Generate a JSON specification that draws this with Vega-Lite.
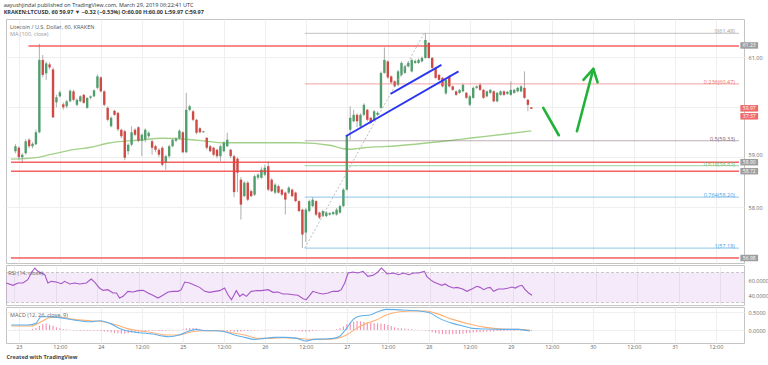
{
"$schema": "https://vega.github.io/schema/vega-lite/v6.json",
"background": "white",
"padding": {"left": 3, "top": 2, "right": 2, "bottom": 2},
"config": {
  "font": "Open Sans",
  "view": {"stroke": "#c4c4c4", "strokeWidth": 1},
  "axis": {"labelFont": "Open Sans", "labelFontSize": 5.5, "labelColor": "#666", "ticks": false, "domain": false, "gridColor": "#efefef", "gridWidth": 1}
},
"title": {"text": "aayushjindal published on TradingView.com, March 29, 2019 06:22:41 UTC", "subtitle": "KRAKEN:LTCUSD, 60  59.97 ▼ −0.32 (−0.53%) O:60.00 H:60.00 L:59.97 C:59.97", "anchor": "start", "fontSize": 5.5, "subtitleFontSize": 5.5, "fontWeight": "normal", "subtitleFontWeight": "bold", "color": "#333", "subtitleColor": "#333", "offset": 3, "subtitlePadding": 2, "font": "Open Sans", "subtitleFont": "Open Sans"},
"datasets": {
"candles": [
{"t":-1,"o":59.12,"h":59.26,"l":59.08,"c":59.22,"hist":0.01},
{"t":0,"o":59.19,"h":59.22,"l":58.94,"c":59.0,"hist":0.01},
{"t":1,"o":59.0,"h":59.08,"l":58.88,"c":59.05,"hist":0.01},
{"t":2,"o":59.08,"h":59.36,"l":59.05,"c":59.32,"hist":0.01},
{"t":3,"o":59.35,"h":59.38,"l":59.18,"c":59.22,"hist":0.01},
{"t":4,"o":59.22,"h":59.3,"l":59.18,"c":59.27,"hist":0.03},
{"t":5,"o":59.26,"h":59.55,"l":59.24,"c":59.5,"hist":0.06},
{"t":6,"o":59.5,"h":61.27,"l":59.48,"c":60.95,"hist":0.12},
{"t":7,"o":60.95,"h":61.05,"l":60.6,"c":60.65,"hist":0.17},
{"t":8,"o":60.68,"h":60.92,"l":60.55,"c":60.88,"hist":0.18},
{"t":9,"o":60.86,"h":60.9,"l":60.76,"c":60.8,"hist":0.15},
{"t":10,"o":60.76,"h":60.8,"l":59.78,"c":59.8,"hist":0.12},
{"t":11,"o":60.1,"h":60.25,"l":60.0,"c":60.2,"hist":0.08},
{"t":12,"o":60.22,"h":60.33,"l":60.2,"c":60.3,"hist":0.05},
{"t":13,"o":60.06,"h":60.1,"l":59.95,"c":60.0,"hist":0.03},
{"t":14,"o":60.02,"h":60.15,"l":59.98,"c":60.12,"hist":0.02},
{"t":15,"o":60.12,"h":60.36,"l":60.1,"c":60.33,"hist":0.01},
{"t":16,"o":60.32,"h":60.35,"l":60.12,"c":60.15,"hist":-0.01},
{"t":17,"o":60.05,"h":60.18,"l":60.02,"c":60.15,"hist":-0.01},
{"t":18,"o":60.12,"h":60.24,"l":60.1,"c":60.22,"hist":-0.02},
{"t":19,"o":60.25,"h":60.27,"l":60.07,"c":60.09,"hist":-0.02},
{"t":20,"o":59.99,"h":60.2,"l":59.97,"c":60.19,"hist":-0.02},
{"t":21,"o":60.19,"h":60.24,"l":60.16,"c":60.22,"hist":-0.01},
{"t":22,"o":60.22,"h":60.36,"l":60.2,"c":60.34,"hist":-0.01},
{"t":23,"o":60.39,"h":60.66,"l":60.36,"c":60.62,"hist":-0.02},
{"t":24,"o":60.6,"h":60.62,"l":60.3,"c":60.32,"hist":-0.03},
{"t":25,"o":60.32,"h":60.34,"l":60.02,"c":60.05,"hist":-0.04},
{"t":26,"o":59.99,"h":60.02,"l":59.72,"c":59.75,"hist":-0.05},
{"t":27,"o":59.62,"h":59.82,"l":59.6,"c":59.79,"hist":-0.07},
{"t":28,"o":59.93,"h":59.95,"l":59.83,"c":59.85,"hist":-0.08},
{"t":29,"o":59.89,"h":59.9,"l":59.52,"c":59.56,"hist":-0.09},
{"t":30,"o":59.55,"h":59.57,"l":59.38,"c":59.42,"hist":-0.1},
{"t":31,"o":59.52,"h":59.55,"l":58.94,"c":58.99,"hist":-0.1},
{"t":32,"o":59.12,"h":59.28,"l":59.05,"c":59.25,"hist":-0.09},
{"t":33,"o":59.25,"h":59.62,"l":59.22,"c":59.5,"hist":-0.07},
{"t":34,"o":59.55,"h":59.58,"l":59.42,"c":59.45,"hist":-0.06},
{"t":35,"o":59.6,"h":59.62,"l":59.3,"c":59.33,"hist":-0.05},
{"t":36,"o":59.33,"h":59.48,"l":59.02,"c":59.45,"hist":-0.04},
{"t":37,"o":59.35,"h":59.58,"l":59.3,"c":59.55,"hist":-0.03},
{"t":38,"o":59.42,"h":59.52,"l":59.38,"c":59.49,"hist":-0.02},
{"t":39,"o":59.32,"h":59.35,"l":59.05,"c":59.19,"hist":-0.02},
{"t":40,"o":59.22,"h":59.25,"l":59.1,"c":59.15,"hist":-0.02},
{"t":41,"o":59.15,"h":59.18,"l":59.0,"c":59.05,"hist":-0.03},
{"t":42,"o":59.19,"h":59.22,"l":58.82,"c":58.85,"hist":-0.03},
{"t":43,"o":58.89,"h":59.05,"l":58.75,"c":59.02,"hist":-0.02},
{"t":44,"o":59.02,"h":59.25,"l":58.98,"c":59.22,"hist":-0.01},
{"t":45,"o":59.22,"h":59.38,"l":59.2,"c":59.35,"hist":-0.01},
{"t":46,"o":59.33,"h":59.4,"l":59.3,"c":59.37,"hist":0.01},
{"t":47,"o":59.38,"h":59.56,"l":59.35,"c":59.53,"hist":0.01},
{"t":48,"o":59.5,"h":59.52,"l":59.08,"c":59.1,"hist":0.02},
{"t":49,"o":59.1,"h":60.29,"l":59.08,"c":59.95,"hist":0.05},
{"t":50,"o":59.95,"h":60.05,"l":59.92,"c":60.02,"hist":0.06},
{"t":51,"o":59.92,"h":59.95,"l":59.72,"c":59.75,"hist":0.06},
{"t":52,"o":59.75,"h":59.77,"l":59.46,"c":59.49,"hist":0.05},
{"t":53,"o":59.58,"h":59.6,"l":59.48,"c":59.5,"hist":0.03},
{"t":54,"o":59.5,"h":59.53,"l":59.49,"c":59.52,"hist":0.01},
{"t":55,"o":59.39,"h":59.4,"l":59.15,"c":59.19,"hist":0.01},
{"t":56,"o":59.22,"h":59.25,"l":59.1,"c":59.12,"hist":-0.01},
{"t":57,"o":59.19,"h":59.21,"l":59.02,"c":59.05,"hist":-0.01},
{"t":58,"o":59.15,"h":59.17,"l":58.98,"c":59.02,"hist":-0.01},
{"t":59,"o":59.02,"h":59.25,"l":58.92,"c":59.22,"hist":-0.01},
{"t":60,"o":59.12,"h":59.32,"l":59.1,"c":59.29,"hist":-0.02},
{"t":61,"o":59.22,"h":59.49,"l":59.2,"c":59.35,"hist":-0.03},
{"t":62,"o":59.15,"h":59.17,"l":58.98,"c":59.02,"hist":-0.04},
{"t":63,"o":59.02,"h":59.05,"l":58.2,"c":58.3,"hist":-0.05},
{"t":64,"o":58.97,"h":59.0,"l":58.3,"c":58.69,"hist":-0.05},
{"t":65,"o":58.55,"h":58.6,"l":57.75,"c":58.05,"hist":-0.04},
{"t":66,"o":58.22,"h":58.52,"l":58.2,"c":58.49,"hist":-0.03},
{"t":67,"o":58.49,"h":58.52,"l":58.12,"c":58.15,"hist":-0.03},
{"t":68,"o":58.32,"h":58.35,"l":58.2,"c":58.22,"hist":-0.02},
{"t":69,"o":58.25,"h":58.65,"l":58.22,"c":58.62,"hist":-0.01},
{"t":70,"o":58.59,"h":58.68,"l":58.55,"c":58.65,"hist":-0.01},
{"t":71,"o":58.59,"h":58.8,"l":58.57,"c":58.75,"hist":0.01},
{"t":72,"o":58.65,"h":58.85,"l":58.62,"c":58.79,"hist":0.01},
{"t":73,"o":58.82,"h":58.92,"l":58.32,"c":58.35,"hist":0.01},
{"t":74,"o":58.55,"h":58.58,"l":58.3,"c":58.32,"hist":0.01},
{"t":75,"o":58.29,"h":58.48,"l":58.26,"c":58.45,"hist":0.01},
{"t":76,"o":58.42,"h":58.45,"l":58.27,"c":58.29,"hist":-0.01},
{"t":77,"o":58.35,"h":58.37,"l":58.22,"c":58.25,"hist":-0.01},
{"t":78,"o":58.29,"h":58.31,"l":57.85,"c":58.15,"hist":-0.01},
{"t":79,"o":58.29,"h":58.42,"l":58.26,"c":58.39,"hist":-0.01},
{"t":80,"o":58.35,"h":58.37,"l":58.2,"c":58.22,"hist":-0.02},
{"t":81,"o":58.29,"h":58.31,"l":58.1,"c":58.12,"hist":-0.02},
{"t":82,"o":58.12,"h":58.14,"l":57.9,"c":57.92,"hist":-0.03},
{"t":83,"o":57.95,"h":57.97,"l":57.18,"c":57.45,"hist":-0.04},
{"t":84,"o":57.49,"h":57.98,"l":57.3,"c":57.95,"hist":-0.05},
{"t":85,"o":57.92,"h":58.15,"l":57.9,"c":58.12,"hist":-0.04},
{"t":86,"o":58.02,"h":58.2,"l":58.0,"c":58.15,"hist":-0.03},
{"t":87,"o":58.12,"h":58.14,"l":57.82,"c":57.85,"hist":-0.02},
{"t":88,"o":57.89,"h":57.91,"l":57.76,"c":57.79,"hist":-0.01},
{"t":89,"o":57.82,"h":57.95,"l":57.8,"c":57.92,"hist":-0.01},
{"t":90,"o":57.82,"h":57.92,"l":57.8,"c":57.89,"hist":0.01},
{"t":91,"o":57.85,"h":57.9,"l":57.83,"c":57.88,"hist":0.01},
{"t":92,"o":57.86,"h":57.92,"l":57.84,"c":57.9,"hist":0.01},
{"t":93,"o":57.85,"h":57.98,"l":57.83,"c":57.95,"hist":0.02},
{"t":94,"o":57.89,"h":58.05,"l":57.87,"c":58.02,"hist":0.05},
{"t":95,"o":58.02,"h":58.38,"l":58.0,"c":58.35,"hist":0.1},
{"t":96,"o":58.35,"h":59.45,"l":58.33,"c":59.42,"hist":0.16},
{"t":97,"o":59.55,"h":60.02,"l":59.35,"c":59.79,"hist":0.21},
{"t":98,"o":59.72,"h":59.95,"l":59.7,"c":59.85,"hist":0.24},
{"t":99,"o":59.85,"h":59.88,"l":59.6,"c":59.72,"hist":0.25},
{"t":100,"o":59.62,"h":59.88,"l":59.6,"c":59.85,"hist":0.24},
{"t":101,"o":59.85,"h":60.08,"l":59.82,"c":60.05,"hist":0.23},
{"t":102,"o":59.95,"h":59.97,"l":59.72,"c":59.75,"hist":0.21},
{"t":103,"o":59.79,"h":59.81,"l":59.67,"c":59.69,"hist":0.2},
{"t":104,"o":59.75,"h":59.95,"l":59.73,"c":59.92,"hist":0.19},
{"t":105,"o":59.85,"h":59.92,"l":59.83,"c":59.89,"hist":0.19},
{"t":106,"o":59.99,"h":60.72,"l":59.97,"c":60.69,"hist":0.18},
{"t":107,"o":60.69,"h":61.2,"l":60.67,"c":60.95,"hist":0.17},
{"t":108,"o":60.92,"h":60.94,"l":60.57,"c":60.6,"hist":0.14},
{"t":109,"o":60.62,"h":60.64,"l":60.47,"c":60.5,"hist":0.11},
{"t":110,"o":60.52,"h":60.54,"l":60.4,"c":60.42,"hist":0.08},
{"t":111,"o":60.45,"h":60.75,"l":60.42,"c":60.72,"hist":0.06},
{"t":112,"o":60.65,"h":60.92,"l":60.62,"c":60.89,"hist":0.05},
{"t":113,"o":60.69,"h":60.85,"l":60.67,"c":60.82,"hist":0.04},
{"t":114,"o":60.82,"h":60.92,"l":60.8,"c":60.89,"hist":0.03},
{"t":115,"o":60.72,"h":60.98,"l":60.7,"c":60.95,"hist":0.02},
{"t":116,"o":60.89,"h":60.96,"l":60.87,"c":60.93,"hist":0.01},
{"t":117,"o":60.89,"h":60.98,"l":60.87,"c":60.95,"hist":0.01},
{"t":118,"o":60.92,"h":61.02,"l":60.9,"c":60.99,"hist":0.01},
{"t":119,"o":60.99,"h":61.49,"l":60.97,"c":61.35,"hist":-0.01},
{"t":120,"o":61.29,"h":61.31,"l":60.97,"c":60.99,"hist":-0.03},
{"t":121,"o":60.99,"h":61.01,"l":60.77,"c":60.79,"hist":-0.06},
{"t":122,"o":60.79,"h":60.81,"l":60.57,"c":60.59,"hist":-0.08},
{"t":123,"o":60.65,"h":60.67,"l":60.53,"c":60.55,"hist":-0.1},
{"t":124,"o":60.59,"h":60.61,"l":60.4,"c":60.42,"hist":-0.11},
{"t":125,"o":60.28,"h":60.58,"l":60.25,"c":60.55,"hist":-0.12},
{"t":126,"o":60.62,"h":60.64,"l":60.4,"c":60.42,"hist":-0.12},
{"t":127,"o":60.42,"h":60.44,"l":60.33,"c":60.35,"hist":-0.12},
{"t":128,"o":60.32,"h":60.34,"l":60.23,"c":60.25,"hist":-0.11},
{"t":129,"o":60.29,"h":60.37,"l":60.27,"c":60.35,"hist":-0.11},
{"t":130,"o":60.32,"h":60.48,"l":60.3,"c":60.45,"hist":-0.1},
{"t":131,"o":60.29,"h":60.31,"l":60.17,"c":60.19,"hist":-0.09},
{"t":132,"o":60.05,"h":60.25,"l":60.02,"c":60.22,"hist":-0.08},
{"t":133,"o":60.19,"h":60.42,"l":60.17,"c":60.39,"hist":-0.07},
{"t":134,"o":60.39,"h":60.44,"l":60.37,"c":60.42,"hist":-0.06},
{"t":135,"o":60.45,"h":60.49,"l":60.33,"c":60.35,"hist":-0.06},
{"t":136,"o":60.35,"h":60.37,"l":60.17,"c":60.19,"hist":-0.05},
{"t":137,"o":60.22,"h":60.34,"l":60.2,"c":60.32,"hist":-0.05},
{"t":138,"o":60.29,"h":60.37,"l":60.27,"c":60.35,"hist":-0.04},
{"t":139,"o":60.32,"h":60.34,"l":60.1,"c":60.12,"hist":-0.04},
{"t":140,"o":60.12,"h":60.31,"l":60.1,"c":60.29,"hist":-0.03},
{"t":141,"o":60.25,"h":60.34,"l":60.23,"c":60.32,"hist":-0.03},
{"t":142,"o":60.32,"h":60.34,"l":60.23,"c":60.25,"hist":-0.03},
{"t":143,"o":60.27,"h":60.33,"l":60.25,"c":60.31,"hist":-0.02},
{"t":144,"o":60.25,"h":60.52,"l":60.23,"c":60.35,"hist":-0.02},
{"t":145,"o":60.29,"h":60.37,"l":60.27,"c":60.35,"hist":-0.02},
{"t":146,"o":60.32,"h":60.41,"l":60.3,"c":60.39,"hist":-0.01},
{"t":147,"o":60.32,"h":60.44,"l":60.3,"c":60.42,"hist":-0.01},
{"t":148,"o":60.39,"h":60.72,"l":60.17,"c":60.19,"hist":-0.02},
{"t":149,"o":60.15,"h":60.17,"l":59.92,"c":60.05,"hist":-0.03},
{"t":150,"o":60.0,"h":60.0,"l":59.97,"c":59.97,"hist":-0.03}
],
"ma": [
{"t":-2.3,"ma":58.96},{"t":5,"ma":58.99},{"t":9,"ma":59.05},{"t":16,"ma":59.15},{"t":21,"ma":59.2},{"t":26,"ma":59.28},{"t":35,"ma":59.34},{"t":42,"ma":59.38},{"t":49,"ma":59.36},{"t":55,"ma":59.32},{"t":60,"ma":59.29},{"t":73,"ma":59.29},{"t":82,"ma":59.29},{"t":91,"ma":59.24},{"t":95,"ma":59.17},{"t":97,"ma":59.16},{"t":101,"ma":59.19},{"t":111,"ma":59.23},{"t":123,"ma":59.31},{"t":133,"ma":59.39},{"t":142,"ma":59.46},{"t":150,"ma":59.53}
],
"hlines": [
{"price":61.23,"t0":2.8},{"price":58.9,"t0":-2.3},{"price":58.72,"t0":-2.3},{"price":56.98,"t0":-2.3}
],
"fib": [
{"level":"0","price":61.48,"t0":83.7,"label":"0(61.48)"},
{"level":"0.236","price":60.47,"t0":83.7,"label":"0.236(60.47)"},
{"level":"0.5","price":59.33,"t0":83.7,"label":"0.5(59.33)"},
{"level":"0.618","price":58.83,"t0":83.7,"label":"0.618(58.83)"},
{"level":"0.764","price":58.2,"t0":83.7,"label":"0.764(58.20)"},
{"level":"1","price":57.18,"t0":83.7,"label":"1(57.18)"}
],
"fibdiag": [{"t":83.7,"p":57.18},{"t":118.6,"p":61.48}],
"trend": [
{"id":"a","t":95.7,"p":59.42},{"id":"a","t":128.7,"p":60.72},
{"id":"b","t":108.8,"p":60.27},{"id":"b","t":123.7,"p":60.85}
],
"arrows": [
{"id":"s1","t":153.5,"p":59.99},{"id":"s1","t":158.05,"p":59.44},
{"id":"s2","t":163.36,"p":59.52},{"id":"s2","t":168.16,"p":60.77},
{"id":"hd","t":165.27,"p":60.55},{"id":"hd","t":168.16,"p":60.77},{"id":"hd","t":169.4,"p":60.5}
],
"tags": [
{"price":61.24,"label":"61.23","kind":"level"},
{"price":58.9,"label":"58.90","kind":"level"},
{"price":58.72,"label":"58.72","kind":"level"},
{"price":56.98,"label":"56.98","kind":"level"},
{"price":59.98,"label":"59.97","kind":"last"},
{"price":59.82,"label":"37:37","kind":"last"}
],
"band": [{"lo":30,"hi":70}],
"rsi": [
{"t":-2.2,"v":56.0},{"t":-0.3,"v":52.9},{"t":1.2,"v":56.0},{"t":2.6,"v":56.0},{"t":4.0,"v":60.4},{"t":5.0,"v":69.3},{"t":6.0,"v":76.0},{"t":6.9,"v":71.6},{"t":7.9,"v":69.3},{"t":8.9,"v":67.1},{"t":9.8,"v":56.0},{"t":10.8,"v":58.2},{"t":12.2,"v":57.3},{"t":13.7,"v":55.1},{"t":14.6,"v":58.2},{"t":16.1,"v":54.7},{"t":17.5,"v":56.0},{"t":19.0,"v":54.7},{"t":20.9,"v":56.0},{"t":22.3,"v":61.3},{"t":23.3,"v":57.3},{"t":24.7,"v":49.3},{"t":25.7,"v":46.2},{"t":27.1,"v":47.1},{"t":28.6,"v":42.7},{"t":29.6,"v":42.7},{"t":30.5,"v":36.0},{"t":31.5,"v":38.2},{"t":32.9,"v":44.9},{"t":34.4,"v":44.0},{"t":35.8,"v":45.8},{"t":37.3,"v":46.2},{"t":38.7,"v":42.7},{"t":40.1,"v":39.6},{"t":41.6,"v":36.0},{"t":43.0,"v":39.6},{"t":44.5,"v":44.0},{"t":45.9,"v":44.9},{"t":47.4,"v":44.9},{"t":48.3,"v":47.1},{"t":49.3,"v":57.3},{"t":50.7,"v":56.0},{"t":52.2,"v":52.9},{"t":53.6,"v":50.2},{"t":55.1,"v":44.9},{"t":56.5,"v":43.6},{"t":58.0,"v":44.9},{"t":59.4,"v":45.8},{"t":60.8,"v":49.3},{"t":61.8,"v":40.4},{"t":62.8,"v":33.8},{"t":64.2,"v":45.8},{"t":65.2,"v":38.2},{"t":66.1,"v":41.3},{"t":67.1,"v":38.2},{"t":68.5,"v":44.9},{"t":70.0,"v":45.8},{"t":71.4,"v":45.8},{"t":73.4,"v":47.1},{"t":74.8,"v":43.6},{"t":76.2,"v":44.0},{"t":77.7,"v":41.3},{"t":79.1,"v":41.3},{"t":80.6,"v":40.4},{"t":82.0,"v":39.6},{"t":83.5,"v":35.1},{"t":84.4,"v":33.8},{"t":85.4,"v":39.6},{"t":86.3,"v":44.9},{"t":87.8,"v":42.7},{"t":89.2,"v":41.3},{"t":90.7,"v":42.7},{"t":92.1,"v":44.9},{"t":93.6,"v":44.9},{"t":94.5,"v":47.1},{"t":95.5,"v":56.0},{"t":96.5,"v":69.3},{"t":97.9,"v":70.7},{"t":99.3,"v":69.3},{"t":100.8,"v":71.6},{"t":102.2,"v":64.9},{"t":103.7,"v":66.2},{"t":105.1,"v":70.7},{"t":106.1,"v":76.0},{"t":107.1,"v":71.6},{"t":107.7,"v":68.0},{"t":109.6,"v":69.3},{"t":111.1,"v":67.1},{"t":112.5,"v":69.3},{"t":114.0,"v":67.1},{"t":115.4,"v":69.3},{"t":116.8,"v":69.3},{"t":117.8,"v":70.7},{"t":118.5,"v":71.6},{"t":119.2,"v":64.9},{"t":120.2,"v":60.5},{"t":121.2,"v":57.3},{"t":122.6,"v":54.7},{"t":123.6,"v":52.9},{"t":124.5,"v":54.7},{"t":125.5,"v":51.6},{"t":126.9,"v":49.3},{"t":127.9,"v":50.2},{"t":129.4,"v":48.4},{"t":130.8,"v":44.9},{"t":132.2,"v":48.0},{"t":133.7,"v":51.6},{"t":134.6,"v":50.2},{"t":135.6,"v":47.1},{"t":136.6,"v":49.3},{"t":137.5,"v":50.2},{"t":138.5,"v":44.9},{"t":139.9,"v":48.0},{"t":141.4,"v":48.0},{"t":142.8,"v":49.3},{"t":143.8,"v":50.7},{"t":144.8,"v":49.3},{"t":145.7,"v":51.6},{"t":146.7,"v":52.9},{"t":147.6,"v":47.1},{"t":148.6,"v":42.7},{"t":149.6,"v":39.6}
],
"macd": [
{"t":-2.2,"v":0.139},{"t":2.6,"v":0.139},{"t":5.0,"v":0.185},{"t":6.5,"v":0.37},{"t":8.4,"v":0.37},{"t":11.3,"v":0.352},{"t":16.1,"v":0.278},{"t":20.9,"v":0.231},{"t":23.8,"v":0.259},{"t":26.7,"v":0.185},{"t":29.5,"v":0.046},{"t":31.5,"v":-0.019},{"t":35.3,"v":-0.074},{"t":39.2,"v":-0.111},{"t":42.1,"v":-0.167},{"t":44.0,"v":-0.185},{"t":46.9,"v":-0.139},{"t":49.3,"v":-0.046},{"t":51.7,"v":0.019},{"t":54.6,"v":-0.019},{"t":57.5,"v":-0.019},{"t":60.3,"v":-0.046},{"t":63.2,"v":-0.139},{"t":66.1,"v":-0.204},{"t":69.0,"v":-0.259},{"t":71.9,"v":-0.231},{"t":74.8,"v":-0.204},{"t":77.7,"v":-0.204},{"t":81.5,"v":-0.231},{"t":83.9,"v":-0.306},{"t":86.3,"v":-0.259},{"t":89.2,"v":-0.25},{"t":92.1,"v":-0.231},{"t":94.0,"v":-0.167},{"t":95.9,"v":0.046},{"t":97.9,"v":0.296},{"t":99.8,"v":0.389},{"t":102.7,"v":0.417},{"t":105.1,"v":0.509},{"t":107.5,"v":0.574},{"t":112.5,"v":0.555},{"t":117.3,"v":0.528},{"t":120.2,"v":0.481},{"t":123.1,"v":0.324},{"t":127.0,"v":0.185},{"t":130.8,"v":0.093},{"t":132.7,"v":0.046},{"t":136.6,"v":0.028},{"t":141.4,"v":0.019},{"t":146.2,"v":0.019},{"t":149.6,"v":-0.028}
],
"signal": [
{"t":-2.2,"v":0.111},{"t":3.6,"v":0.111},{"t":6.5,"v":0.231},{"t":9.3,"v":0.352},{"t":12.2,"v":0.352},{"t":16.1,"v":0.296},{"t":20.9,"v":0.259},{"t":24.7,"v":0.231},{"t":28.6,"v":0.139},{"t":31.5,"v":0.046},{"t":35.3,"v":-0.019},{"t":39.2,"v":-0.074},{"t":43.0,"v":-0.139},{"t":46.9,"v":-0.139},{"t":50.7,"v":-0.046},{"t":54.6,"v":-0.019},{"t":58.4,"v":-0.019},{"t":62.3,"v":-0.074},{"t":66.1,"v":-0.139},{"t":70.0,"v":-0.231},{"t":73.8,"v":-0.231},{"t":77.7,"v":-0.213},{"t":81.5,"v":-0.231},{"t":85.4,"v":-0.259},{"t":89.2,"v":-0.259},{"t":93.1,"v":-0.231},{"t":95.9,"v":-0.139},{"t":98.8,"v":0.046},{"t":101.7,"v":0.185},{"t":104.6,"v":0.278},{"t":107.5,"v":0.417},{"t":111.5,"v":0.509},{"t":115.4,"v":0.528},{"t":119.2,"v":0.528},{"t":122.1,"v":0.463},{"t":127.0,"v":0.296},{"t":131.8,"v":0.167},{"t":136.6,"v":0.074},{"t":141.4,"v":0.028},{"t":146.2,"v":0.019},{"t":149.6,"v":0.0}
]
},
"spacing": 0,
"vconcat": [
{
  "width": 738, "height": 244,
  "title": {"text": "Litecoin / U.S. Dollar, 60, KRAKEN", "subtitle": "MA (100, close)", "anchor": "start", "offset": -18, "dx": 4, "fontSize": 5.5, "subtitleFontSize": 5.5, "fontWeight": "normal", "color": "#555", "subtitleColor": "#999", "subtitlePadding": 1, "font": "Open Sans", "subtitleFont": "Open Sans"},
  "layer": [
    {"data": {"name": "ma"}, "mark": {"type": "line", "color": "#8cc56b", "strokeWidth": 1.3, "opacity": 0.8, "interpolate": "monotone"},
     "encoding": {
       "x": {"field": "t", "type": "quantitative", "scale": {"domain": [-2.3, 210.8], "nice": false, "zero": false},
             "axis": {"values": [0,12,24,36,48,60,72,84,96,108,120,132,144,156,168,180,192,204], "labels": false, "grid": true, "title": null}},
       "y": {"field": "ma", "type": "quantitative", "scale": {"domain": [56.88, 61.77], "nice": false, "zero": false},
             "axis": {"orient": "right", "values": [57,57.5,58,58.5,59,59.5,60,60.5,61,61.5], "labelExpr": "datum.value == 60 || datum.value == 57 ? '' : format(datum.value, '.2f')", "labelBaseline": {"condition": {"test": "datum.value == 59", "value": "bottom"}, "value": "middle"}, "grid": true, "title": null, "labelPadding": 4}}
     }},
    {"data": {"name": "candles"}, "mark": {"type": "rule", "color": "#9a9a9a", "strokeWidth": 0.8},
     "encoding": {
       "x": {"field": "t", "type": "quantitative"},
       "y": {"field": "l", "type": "quantitative"},
       "y2": {"field": "h"}
     }},
    {"data": {"name": "candles"}, "mark": {"type": "bar", "orient": "vertical", "size": 2.4},
     "encoding": {
       "x": {"field": "t", "type": "quantitative"},
       "y": {"field": "o", "type": "quantitative"},
       "y2": {"field": "c"},
       "color": {"condition": {"test": "datum.c >= datum.o", "value": "#4f9e6b"}, "value": "#cf4a45"}
     }},
    {"data": {"name": "hlines"}, "mark": {"type": "rule", "color": "#f23b3b", "strokeWidth": 1.6, "opacity": 0.8},
     "encoding": {
       "x": {"field": "t0", "type": "quantitative"},
       "x2": {"datum": 210.8},
       "y": {"field": "price", "type": "quantitative"}
     }},
    {"data": {"name": "fib"}, "mark": {"type": "rule", "strokeWidth": 1.2, "opacity": 0.5},
     "encoding": {
       "x": {"field": "t0", "type": "quantitative"},
       "x2": {"datum": 210.8},
       "y": {"field": "price", "type": "quantitative"},
       "color": {"field": "level", "type": "nominal", "legend": null, "scale": {"domain": ["0","0.236","0.5","0.618","0.764","1"], "range": ["#9e9e9e","#ef6b6b","#7d5f73","#66bb6a","#4aa3df","#4aa3df"]}}
     }},
    {"data": {"name": "fib"}, "mark": {"type": "text", "align": "right", "baseline": "bottom", "dx": -4, "dy": 1, "fontSize": 5.5},
     "encoding": {
       "x": {"datum": 210.8, "type": "quantitative"},
       "y": {"field": "price", "type": "quantitative"},
       "text": {"field": "label"},
       "color": {"field": "level", "type": "nominal", "legend": null}
     }},
    {"data": {"name": "fibdiag"}, "mark": {"type": "line", "color": "#aaaaaa", "strokeWidth": 0.8, "strokeDash": [2, 2]},
     "encoding": {
       "x": {"field": "t", "type": "quantitative"},
       "y": {"field": "p", "type": "quantitative"}
     }},
    {"data": {"name": "trend"}, "mark": {"type": "line", "color": "#2a35f5", "strokeWidth": 1.8},
     "encoding": {
       "x": {"field": "t", "type": "quantitative"},
       "y": {"field": "p", "type": "quantitative"},
       "detail": {"field": "id"}
     }},
    {"data": {"name": "arrows"}, "mark": {"type": "line", "color": "#22b23a", "strokeWidth": 2.6, "strokeCap": "round", "strokeJoin": "round"},
     "encoding": {
       "x": {"field": "t", "type": "quantitative"},
       "y": {"field": "p", "type": "quantitative"},
       "detail": {"field": "id"}
     }},
    {"data": {"name": "tags"}, "mark": {"type": "rule", "strokeWidth": 6.5, "strokeCap": "butt"},
     "encoding": {
       "x": {"datum": 211.2, "type": "quantitative"},
       "x2": {"datum": 216.4},
       "y": {"field": "price", "type": "quantitative"},
       "color": {"field": "kind", "type": "nominal", "legend": null, "scale": {"domain": ["level","last"], "range": ["#f21c1c","#e06363"]}}
     }},
    {"data": {"name": "tags"}, "mark": {"type": "text", "color": "white", "fontSize": 5, "align": "center", "baseline": "middle"},
     "encoding": {
       "x": {"datum": 213.8, "type": "quantitative"},
       "y": {"field": "price", "type": "quantitative"},
       "text": {"field": "label"}
     }}
  ]
},
{
  "width": 738, "height": 40,
  "title": {"text": "RSI (14, close)", "anchor": "start", "offset": -11, "dx": 4, "fontSize": 5.5, "fontWeight": "normal", "color": "#666", "font": "Open Sans"},
  "layer": [
    {"data": {"name": "rsi"}, "mark": {"type": "line", "color": "#a755c8", "strokeWidth": 1.1, "opacity": 0},
     "encoding": {
       "x": {"field": "t", "type": "quantitative", "scale": {"domain": [-2.3, 210.8], "nice": false, "zero": false},
             "axis": {"values": [0,12,24,36,48,60,72,84,96,108,120,132,144,156,168,180,192,204], "labels": false, "grid": true, "title": null}},
       "y": {"field": "v", "type": "quantitative", "scale": {"domain": [26.7, 80], "nice": false, "zero": false},
             "axis": {"orient": "right", "values": [40, 60], "format": ".4f", "grid": false, "title": null, "labelPadding": 4}}
     }},
    {"data": {"name": "band"}, "mark": {"type": "rect", "color": "#a64fd0", "opacity": 0.12},
     "encoding": {
       "x": {"datum": -2.3, "type": "quantitative"},
       "x2": {"datum": 210.8},
       "y": {"field": "lo", "type": "quantitative"},
       "y2": {"field": "hi"}
     }},
    {"data": {"name": "band"}, "mark": {"type": "rule", "color": "#bbbbbb", "strokeDash": [3, 2], "strokeWidth": 0.8},
     "encoding": {"y": {"field": "lo", "type": "quantitative"}}},
    {"data": {"name": "band"}, "mark": {"type": "rule", "color": "#bbbbbb", "strokeDash": [3, 2], "strokeWidth": 0.8},
     "encoding": {"y": {"field": "hi", "type": "quantitative"}}},
    {"data": {"name": "rsi"}, "mark": {"type": "line", "color": "#a755c8", "strokeWidth": 1.1},
     "encoding": {
       "x": {"field": "t", "type": "quantitative"},
       "y": {"field": "v", "type": "quantitative"}
     }}
  ]
},
{
  "width": 738, "height": 36,
  "title": {"text": "MACD (12, 26, close, 9)", "anchor": "start", "offset": -11, "dx": 4, "fontSize": 5.5, "fontWeight": "normal", "color": "#666", "font": "Open Sans"},
  "layer": [
    {"data": {"name": "macd"}, "mark": {"type": "line", "color": "#5fb0ec", "strokeWidth": 1.1, "opacity": 0},
     "encoding": {
       "x": {"field": "t", "type": "quantitative", "scale": {"domain": [-2.3, 210.8], "nice": false, "zero": false},
             "axis": {"values": [0,12,24,36,48,60,72,84,96,108,120,132,144,156,168,180,192,204], "labels": true, "grid": true,
                      "labelExpr": "datum.value % 24 === 0 ? '' + (23 + datum.value / 24) : '12:00'", "labelPadding": 1,
                      "title": "Created with TradingView", "titleAnchor": "start", "titleAlign": "left", "titleFontSize": 5.5, "titleFontWeight": "bold", "titleColor": "#444", "titlePadding": 5, "titleFont": "Open Sans"}},
       "y": {"field": "v", "type": "quantitative", "scale": {"domain": [-0.36, 0.64], "nice": false, "zero": false},
             "axis": {"orient": "right", "values": [0, 0.5], "format": ".4f", "grid": true, "title": null, "labelPadding": 4}}
     }},
    {"data": {"name": "candles"}, "mark": {"type": "bar", "orient": "vertical", "size": 1.1, "color": "#f48fb1"},
     "encoding": {
       "x": {"field": "t", "type": "quantitative"},
       "y": {"field": "hist", "type": "quantitative"},
       "y2": {"datum": 0}
     }},
    {"data": {"name": "signal"}, "mark": {"type": "line", "color": "#ffb173", "strokeWidth": 1.1, "interpolate": "monotone"},
     "encoding": {
       "x": {"field": "t", "type": "quantitative"},
       "y": {"field": "v", "type": "quantitative"}
     }},
    {"data": {"name": "macd"}, "mark": {"type": "line", "color": "#5fb0ec", "strokeWidth": 1.1, "interpolate": "monotone"},
     "encoding": {
       "x": {"field": "t", "type": "quantitative"},
       "y": {"field": "v", "type": "quantitative"}
     }}
  ]
}
]
}
